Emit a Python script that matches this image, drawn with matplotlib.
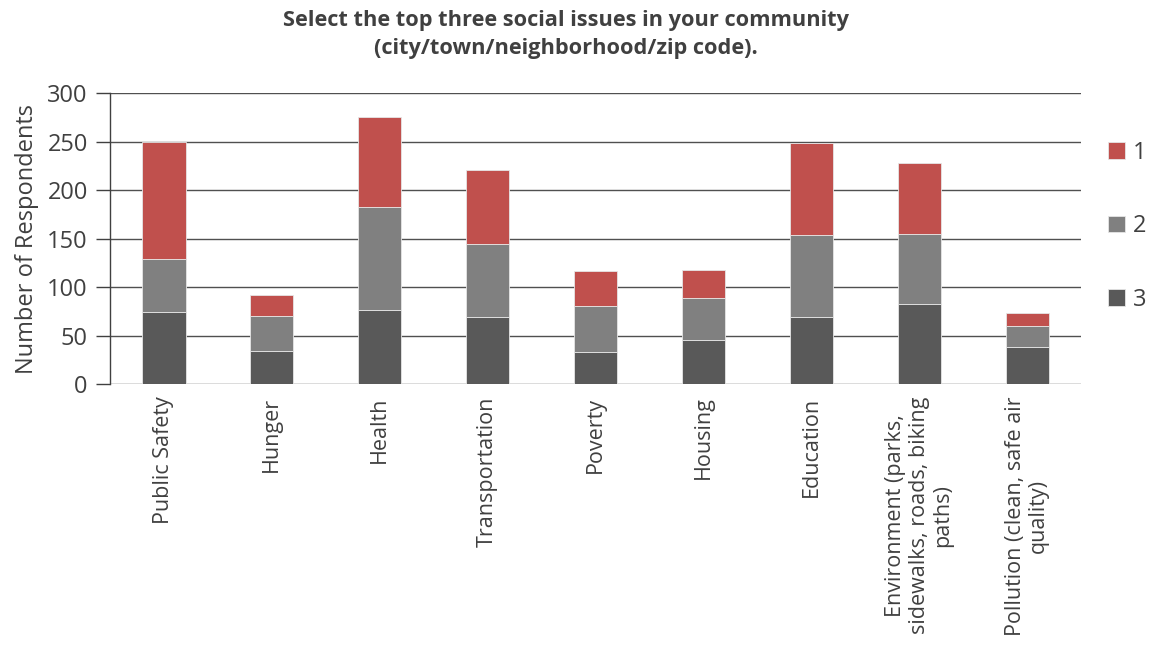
import matplotlib.pyplot as plt
import numpy as np

plt.rcParams['font.family'] = ['Open Sans', 'DejaVu Sans']

issues = ['Public Safety', 'Hunger', 'Health', 'Transportation', 'Poverty',
          'Housing', 'Education',
          'Environment (parks,\nsidewalks, roads, biking\npaths)',
          'Pollution (clean, safe air\nquality)']
rank1 = [120, 22, 93, 77, 37, 29, 94, 73, 13]
rank2 = [55, 36, 106, 75, 47, 44, 85, 73, 22]
rank3 = [74, 34, 76, 69, 33, 45, 69, 82, 38]

text_color = '#404040'
x = np.arange(len(issues))

fig = plt.figure(figsize=(11.53, 6.63), dpi=100)
ax = fig.add_axes([0.0954, 0.4208, 0.8422, 0.4389])

bar_kw = dict(width=0.4, edgecolor='#e6e6e6', linewidth=0.6, zorder=3)
b3 = ax.bar(x, rank3, color='#595959', **bar_kw)
b2 = ax.bar(x, rank2, bottom=rank3, color='#808080', **bar_kw)
b1 = ax.bar(x, rank1, bottom=np.add(rank3, rank2), color='#c0504d', **bar_kw)

ax.set_xlim(-0.5, len(issues) - 0.5)
ax.set_ylim(0, 300)
ax.set_yticks(range(0, 301, 50))
ax.yaxis.grid(True, color='#505050', linewidth=1)
ax.set_axisbelow(True)

for side in ['top', 'right', 'bottom']:
    ax.spines[side].set_visible(False)
ax.spines['left'].set_color('#404040')
ax.spines['left'].set_linewidth(1)

ax.tick_params(axis='y', direction='out', length=10, width=1, color='#404040',
               labelsize=17, labelcolor=text_color, pad=6)
ax.tick_params(axis='x', length=0, pad=9)
ax.set_xticks(x)
ax.set_xticklabels(issues, rotation=90, fontsize=15.5, color=text_color,
                   ha='center', va='top', multialignment='center',
                   linespacing=1.15)

ax.set_ylabel('Number of Respondents', fontsize=17, color=text_color, labelpad=6)

fig.suptitle('Select the top three social issues in your community\n'
             '(city/town/neighborhood/zip code).',
             x=0.491, y=0.985, fontsize=15.7, fontweight='bold', color=text_color,
             linespacing=1.45)

ax.legend([b1, b2, b3], ['1', '2', '3'], loc='upper left',
          bbox_to_anchor=(0.953, 0.802), bbox_transform=fig.transFigure,
          frameon=False, fontsize=17, labelcolor=text_color,
          handlelength=0.7, handleheight=0.7, handletextpad=0.35,
          labelspacing=2.1, borderaxespad=0)

fig.savefig('out.png', dpi=100)
